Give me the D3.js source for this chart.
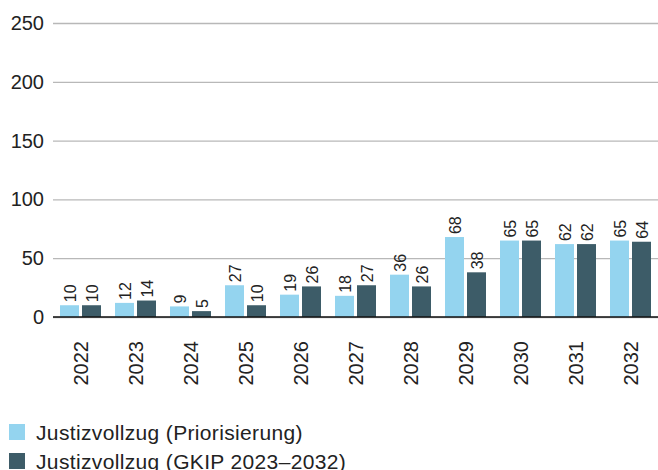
<!DOCTYPE html>
<html>
<head>
<meta charset="utf-8">
<script src="https://cdn.jsdelivr.net/npm/d3@7"></script>
<style>
  html, body { margin: 0; padding: 0; background: #fff; }
  svg { display: block; }
  text { font-family: "Liberation Sans", Arial, sans-serif; fill: #222; }
</style>
</head>
<body>
<svg id="chart" width="658" height="470"></svg>
<script>
const years = ["2022","2023","2024","2025","2026","2027","2028","2029","2030","2031","2032"];
const priorisierung = [10,12,9,27,19,18,36,68,65,62,65];
const gkip = [10,14,5,10,26,27,26,38,65,62,64];
const seriesNames = ["Justizvollzug (Priorisierung)", "Justizvollzug (GKIP 2023–2032)"];
const seriesColors = ["#94d4ef", "#3d5c68"];
const yTicks = [0,50,100,150,200,250];

const svg = d3.select("#chart");
const mLeft = 53, mRight = 658, mTop = 23, mBottom = 317;

const x0 = d3.scaleBand().domain(years).range([mLeft, mRight]).paddingInner(14/55).paddingOuter(7/55);
const x1 = d3.scaleBand().domain([0,1]).range([0, x0.bandwidth()]).paddingInner(3/22);
const y = d3.scaleLinear().domain([0,250]).range([mBottom, mTop]);

// gridlines
const yAxis = d3.axisLeft(y).tickValues(yTicks).tickSize(-(mRight-mLeft)).tickPadding(9);
const gy = svg.append("g").attr("transform", `translate(${mLeft},0)`).call(yAxis);
gy.select(".domain").remove();
gy.selectAll(".tick line").attr("stroke", "#b8b8b8").attr("stroke-width", 1.3);
gy.selectAll(".tick text").style("font-size", "20px").attr("fill", "#222");

const data = years.map((yr, i) => ({year: yr, vals: [priorisierung[i], gkip[i]]}));

const groups = svg.append("g").selectAll("g").data(data).join("g")
  .attr("transform", d => `translate(${x0(d.year)},0)`);

groups.selectAll("rect").data(d => d.vals.map((v, k) => ({k, v}))).join("rect")
  .attr("x", d => x1(d.k))
  .attr("width", x1.bandwidth())
  .attr("y", d => y(d.v))
  .attr("height", d => y(0) - y(d.v))
  .attr("fill", d => seriesColors[d.k]);

groups.selectAll("text.val").data(d => d.vals.map((v, k) => ({k, v}))).join("text")
  .attr("class", "val")
  .attr("transform", d => `translate(${x1(d.k) + x1.bandwidth()/2 + 6},${y(d.v) - 3}) rotate(-90)`)
  .attr("text-anchor", "start")
  .style("font-size", "16px")
  .attr("fill", "#333")
  .text(d => d.v);

// baseline
svg.append("line").attr("x1", mLeft).attr("x2", mRight).attr("y1", y(0)).attr("y2", y(0))
  .attr("stroke", "#111").attr("stroke-width", 1.5);

// x axis labels
const xAxis = d3.axisBottom(x0).tickSize(0).tickPadding(0);
const gx = svg.append("g").attr("transform", `translate(0,${mBottom})`).call(xAxis);
gx.select(".domain").remove();
gx.selectAll(".tick text")
  .style("font-size", "20px")
  .attr("fill", "#222")
  .attr("text-anchor", "end")
  .attr("dy", null)
  .attr("transform", "translate(7,24) rotate(-90)")
  .attr("x", 0).attr("y", 0);

// legend
const legend = svg.append("g").selectAll("g").data(seriesNames).join("g")
  .attr("transform", (d, i) => `translate(9,${424 + i*29})`);
legend.append("rect").attr("width", 16).attr("height", 16).attr("fill", (d, i) => seriesColors[i]);
legend.append("text").attr("x", 27).attr("y", 16)
  .style("font-size", "21px").style("letter-spacing", "0.35px")
  .attr("fill", "#222").text(d => d);
</script>
</body>
</html>
